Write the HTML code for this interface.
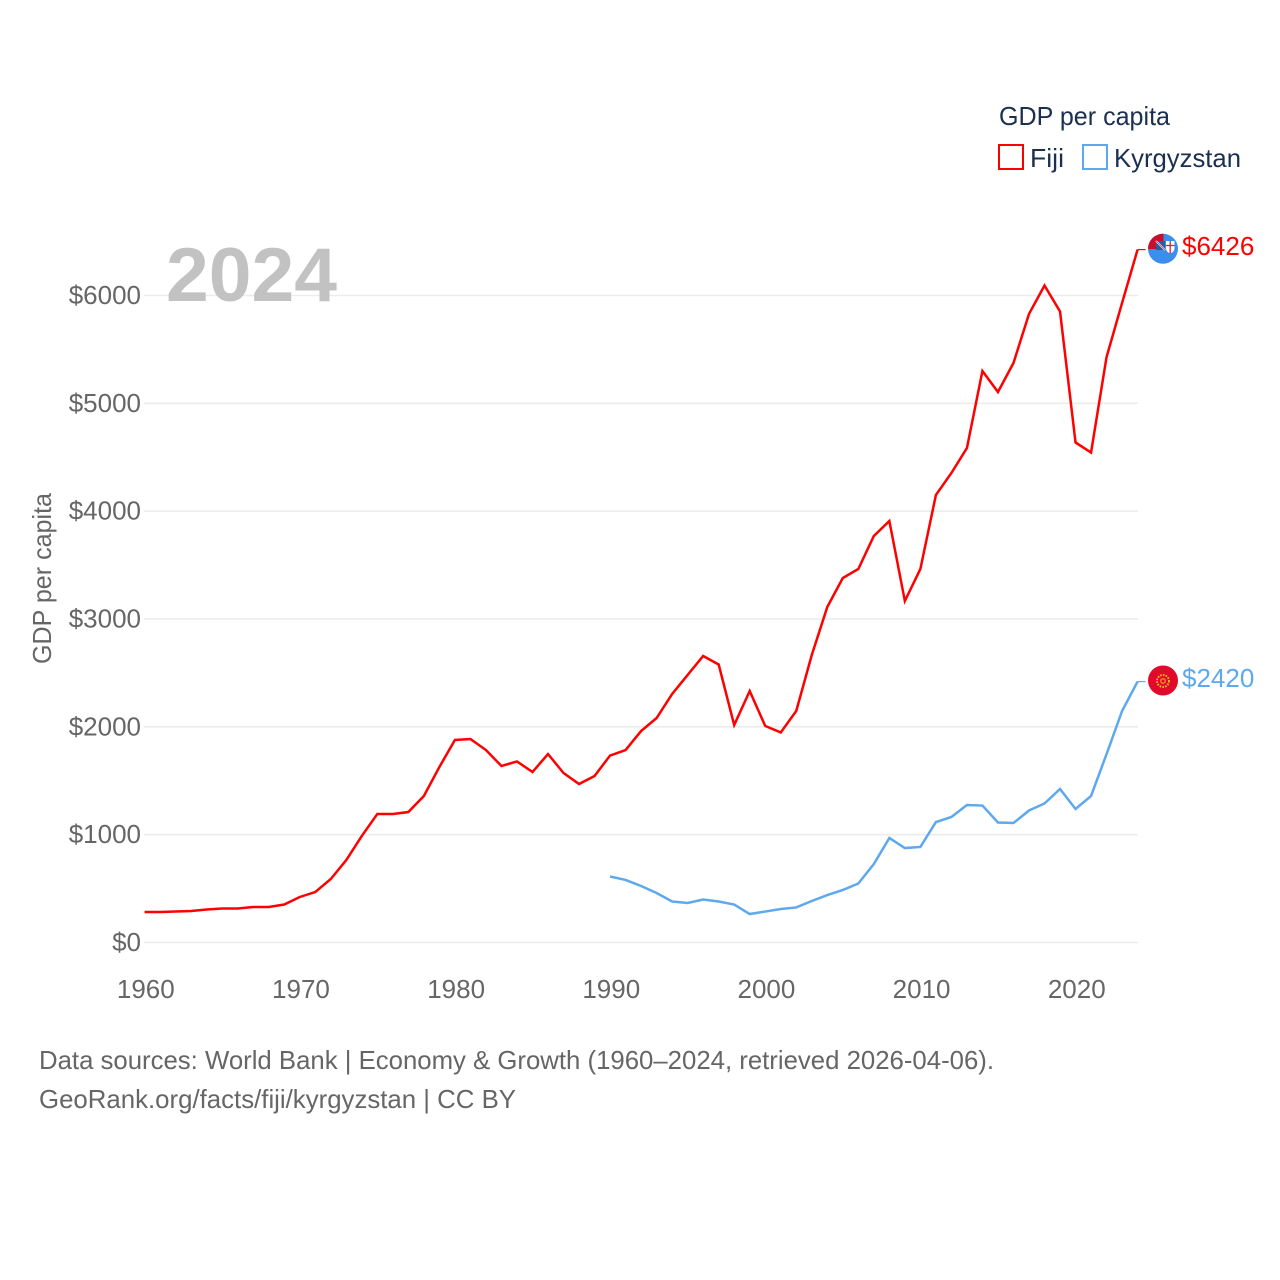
<!DOCTYPE html>
<html lang="en">
<head>
<meta charset="utf-8">
<title>GDP per capita: Fiji and Kyrgyzstan</title>
<style>
html,body{margin:0;padding:0;background:#fff;}
svg{display:block;}
text{font-family:"Liberation Sans",sans-serif;}
</style>
</head>
<body>
<svg id="chart" width="1280" height="1280" viewBox="0 0 1280 1280" xmlns="http://www.w3.org/2000/svg">
  <g id="grid"></g>
  <g id="yticks"></g>
  <g id="xticks"></g>
  <text x="166" y="301" font-size="76" font-weight="700" fill="#c2c2c2" textLength="171" lengthAdjust="spacingAndGlyphs">2024</text>
  <text transform="translate(51,664) rotate(-90)" font-size="26" fill="#666" textLength="171" lengthAdjust="spacingAndGlyphs">GDP per capita</text>
  <g id="series"></g>

  <g>
    <clipPath id="clip-fiji"><circle cx="1163" cy="248.8" r="15"/></clipPath>
    <circle cx="1163" cy="248.8" r="15" fill="#3a8eec"/>
    <g clip-path="url(#clip-fiji)">
      <rect x="1148" y="233" width="15.5" height="8" fill="#c8102e"/>
      <rect x="1148" y="233" width="8" height="16" fill="#c8102e"/>
      <rect x="1156" y="241" width="9" height="9" fill="#2a5c9e"/>
      <path d="M1156 241 L1165 250" stroke="#fff" stroke-width="1.8"/>
      <path d="M1156 241 L1165 250" stroke="#d8213a" stroke-width="0.6"/>
      <path d="M1166 241 h8.5 v7 q0 4 -4.2 5.5 q-4.3 -1.5 -4.3 -5.5 z" fill="#fff"/>
      <path d="M1170.2 241 v12.5 M1166 245.5 h8.5" stroke="#d8213a" stroke-width="1.3"/>
    </g>
  </g>
  <g>
    <circle cx="1163" cy="680.5" r="15" fill="#e20a2b"/>
    <circle cx="1163" cy="681" r="6" fill="none" stroke="#f5c518" stroke-width="1.8" stroke-dasharray="1.6 1.2"/>
    <circle cx="1163" cy="681" r="3" fill="#e89a20" opacity="0.85"/>
    <circle cx="1163" cy="681" r="1.5" fill="#e20a2b"/>
  </g>

  <text x="1182" y="255" font-size="26" fill="#ff0000">$6426</text>
  <text x="1182" y="687" font-size="26" fill="#5ea8ee">$2420</text>

  <g>
    <text x="999" y="125" font-size="26" fill="#1b3050" textLength="171" lengthAdjust="spacingAndGlyphs">GDP per capita</text>
    <rect x="999" y="145" width="24" height="24" fill="none" stroke="#ff0000" stroke-width="2"/>
    <text x="1030" y="167" font-size="26" fill="#1b3050" textLength="34" lengthAdjust="spacingAndGlyphs">Fiji</text>
    <rect x="1083" y="145" width="24" height="24" fill="none" stroke="#5ea8ee" stroke-width="2"/>
    <text x="1114" y="167" font-size="26" fill="#1b3050" textLength="127" lengthAdjust="spacingAndGlyphs">Kyrgyzstan</text>
  </g>

  <text x="39" y="1069" font-size="26" fill="#666" textLength="955" lengthAdjust="spacingAndGlyphs">Data sources: World Bank | Economy &amp; Growth (1960–2024, retrieved 2026-04-06).</text>
  <text x="39" y="1108" font-size="26" fill="#666" textLength="477" lengthAdjust="spacingAndGlyphs">GeoRank.org/facts/fiji/kyrgyzstan | CC BY</text>
</svg>
<script>
const yTickValues = [0, 1000, 2000, 3000, 4000, 5000, 6000];
const xTickValues = [1960, 1970, 1980, 1990, 2000, 2010, 2020];
const fijiStartYear = 1960;
const fijiValues = [283, 283, 287, 292, 306, 315, 315, 329, 329, 352, 422, 468, 589, 765, 988, 1192, 1192, 1210, 1359, 1628, 1878, 1887, 1785, 1637, 1679, 1581, 1748, 1572, 1470, 1544, 1734, 1785, 1961, 2082, 2305, 2481, 2657, 2578, 2017, 2332, 2008, 1948, 2147, 2666, 3111, 3380, 3464, 3770, 3909, 3167, 3464, 4150, 4354, 4586, 5300, 5105, 5374, 5829, 6093, 5852, 4637, 4544, 5430, 5931, 6426];
const kyrgyzstanStartYear = 1990;
const kyrgyzstanValues = [612, 580, 524, 459, 380, 366, 399, 380, 352, 264, 287, 311, 325, 385, 440, 487, 547, 728, 969, 876, 886, 1117, 1164, 1275, 1270, 1113, 1108, 1224, 1289, 1424, 1238, 1359, 1748, 2147, 2420];

const NS = 'http://www.w3.org/2000/svg';
function xScale(year) { return 144.6 + (year - 1960) * (1137.6 - 144.6) / 64; }
function yScale(value) { return 942.5 - value * (942.5 - 295.5) / 6000; }

function drawGrid() {
  const grid = document.getElementById('grid');
  const yticks = document.getElementById('yticks');
  yTickValues.forEach(function (v) {
    const line = document.createElementNS(NS, 'line');
    
    
    line.setAttribute('x1', 144);
    line.setAttribute('x2', 1138);
    line.setAttribute('y1', yScale(v));
    line.setAttribute('y2', yScale(v));
    line.setAttribute('stroke', '#ececec');
    line.setAttribute('stroke-width', 1.6);
    grid.appendChild(line);
    const label = document.createElementNS(NS, 'text');
    
    
    label.setAttribute('x', 141);
    label.setAttribute('y', yScale(v) + 8.5);
    label.setAttribute('text-anchor', 'end');
    label.setAttribute('font-size', 26);
    label.setAttribute('fill', '#666');
    label.textContent = '$' + v;
    yticks.appendChild(label);
  });
}

function drawXTicks() {
  const xticks = document.getElementById('xticks');
  xTickValues.forEach(function (y) {
    const label = document.createElementNS(NS, 'text');
    
    
    label.setAttribute('x', xScale(y) + 1.2);
    label.setAttribute('y', 998);
    label.setAttribute('text-anchor', 'middle');
    label.setAttribute('font-size', 26);
    label.setAttribute('fill', '#666');
    label.textContent = y;
    xticks.appendChild(label);
  });
}

function buildPoints(startYear, values) {
  return values.map(function (v, i) {
    return xScale(startYear + i).toFixed(2) + ',' + yScale(v).toFixed(2);
  });
}

function drawSeries(startYear, values, color, name) {
  const series = document.getElementById('series');
  const poly = document.createElementNS(NS, 'polyline');
  
  
  poly.setAttribute('points', buildPoints(startYear, values).join(' '));
  poly.setAttribute('fill', 'none');
  poly.setAttribute('stroke', color);
  poly.setAttribute('stroke-width', 2.5);
  poly.setAttribute('stroke-linejoin', 'miter');
  series.appendChild(poly);
  const lastY = yScale(values[values.length - 1]);
  const leader = document.createElementNS(NS, 'line');
  
  
  leader.setAttribute('x1', xScale(startYear + values.length - 1));
  leader.setAttribute('x2', xScale(startYear + values.length - 1) + 8);
  leader.setAttribute('y1', lastY);
  leader.setAttribute('y2', lastY);
  leader.setAttribute('stroke', color);
  leader.setAttribute('stroke-width', 1.2);
  series.appendChild(leader);
}

drawGrid();
drawXTicks();
drawSeries(fijiStartYear, fijiValues, '#ff0000', 'fiji-line');
drawSeries(kyrgyzstanStartYear, kyrgyzstanValues, '#5ea8ee', 'kyrgyzstan-line');
</script>
</body>
</html>
